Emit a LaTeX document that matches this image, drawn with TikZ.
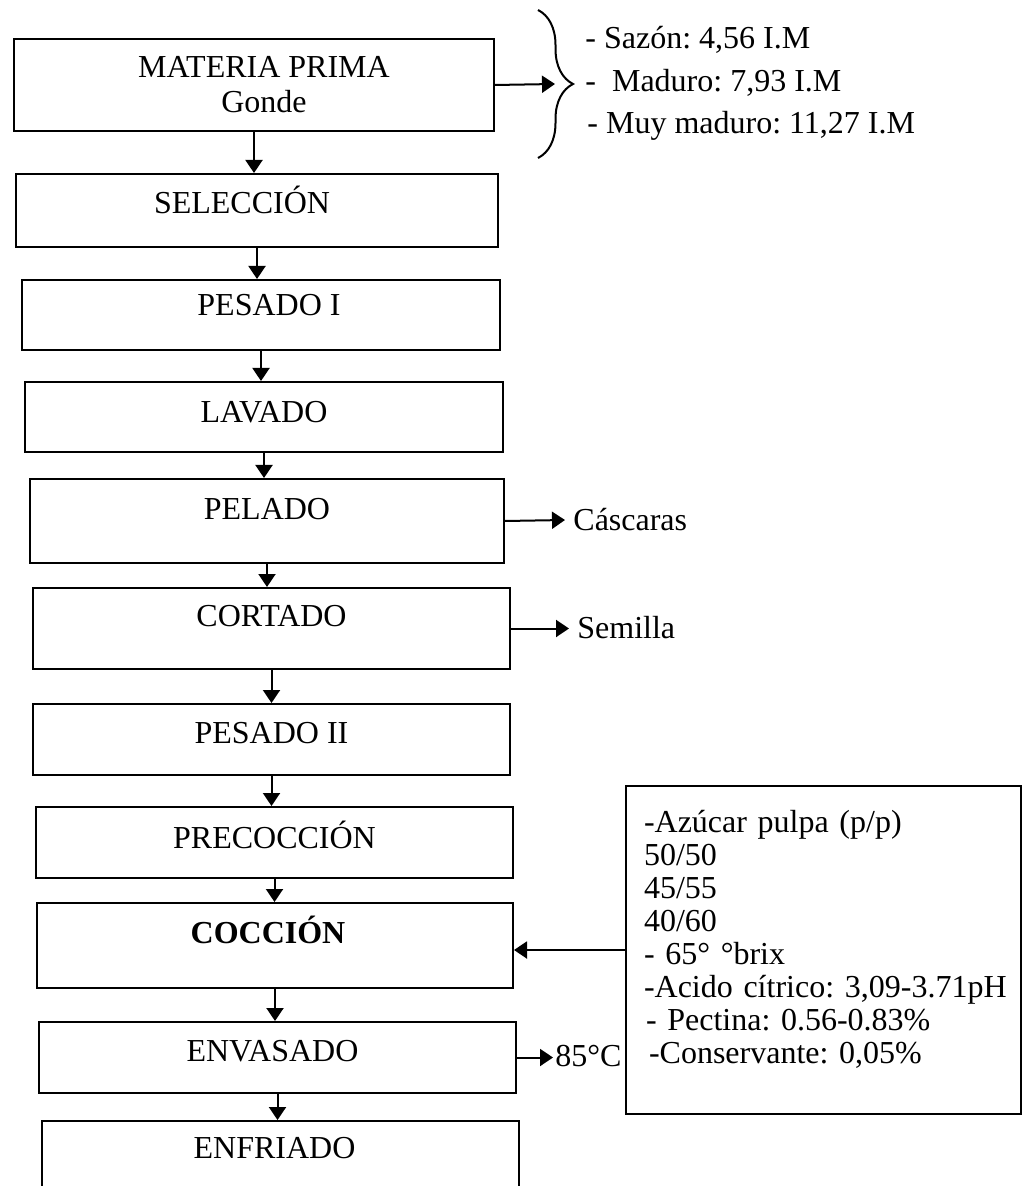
\documentclass[tikz,border=0pt]{standalone}
\usepackage{fontspec}
\setmainfont{Liberation Serif}
\usetikzlibrary{arrows.meta,decorations.pathreplacing}
\begin{document}
\frenchspacing
\begin{tikzpicture}[x=0.5pt,y=-0.5pt,
  every node/.style={font=\fontsize{16}{17.5}\selectfont\frenchspacing},
  proc/.style={draw, line width=1pt, inner sep=0pt, anchor=north west, minimum height=0pt},
  conn/.style={line width=1pt, -{Triangle[length=6.5pt,width=8.5pt]}},
  side/.style={anchor=west, inner ysep=0pt, inner xsep=4pt},
  brlabel/.style={anchor=west, inner sep=0pt}]
\useasboundingbox (0,0) rectangle (1030,1186);
\clip (0,0) rectangle (1030,1186);

% process boxes
\node[proc, minimum width=240pt, minimum height=46pt, align=center] (mp) at (13,38)
  {\hspace*{10pt}MATERIA PRIMA\\\hspace*{10pt}Gonde};
\node[proc, minimum width=241pt, text height=20pt, text depth=16.5pt] (sel) at (15,173) {SELECCIÓN\hspace*{15pt}};
\node[proc, minimum width=239pt, text height=18pt, text depth=17pt] (pes1) at (21,279) {\hspace*{8pt}PESADO I};
\node[proc, minimum width=239pt, text height=20.5pt, text depth=14.5pt] (lav) at (24,381) {LAVADO};
\node[proc, minimum width=237pt, text height=20pt, text depth=22pt] (pel) at (29,478) {PELADO};
\node[proc, minimum width=238.5pt, text height=19pt, text depth=21.5pt] (cor) at (32,587) {CORTADO};
\node[proc, minimum width=238.5pt, text height=19.5pt, text depth=16pt] (pes2) at (32,703) {PESADO II};
\node[proc, minimum width=238.5pt, text height=20.5pt, text depth=15pt] (pre) at (35,806) {PRECOCCIÓN};
\node[proc, minimum width=238pt, text height=20pt, text depth=22.5pt] (coc) at (36,902) {\textbf{COCCIÓN}\hspace*{7pt}};
\node[proc, minimum width=238.5pt, text height=19.5pt, text depth=16pt] (env) at (38,1021) {ENVASADO\hspace*{5pt}};
\node[proc, minimum width=238.5pt, text height=18.5pt, text depth=21.5pt] (enf) at (41,1120) {ENFRIADO\hspace*{6pt}};

% main flow
\draw[conn] (mp.south) -- (mp.south |- sel.north);
\draw[conn] (sel.south) -- (sel.south |- pes1.north);
\draw[conn] (pes1.south) -- (pes1.south |- lav.north);
\draw[conn] (lav.south) -- (lav.south |- pel.north);
\draw[conn] (pel.south) -- (pel.south |- cor.north);
\draw[conn] (cor.south) -- (cor.south |- pes2.north);
\draw[conn] (pes2.south) -- (pes2.south |- pre.north);
\draw[conn] (pre.south) -- (pre.south |- coc.north);
\draw[conn] (coc.south) -- (coc.south |- env.north);
\draw[conn] (env.south) -- (env.south |- enf.north);

% raw material grades
\coordinate (bt) at (555,84);
\draw[conn] (mp.east) -- (bt);
\draw[line width=1pt, decorate, decoration={brace, amplitude=17.5pt}] (538,10) -- (538,158);
\node[brlabel] (g1) at (585,40) {- Sazón: 4,56 I.M};
\node[brlabel] (g2) at (585,83) {-\ \ Maduro: 7,93 I.M};
\node[brlabel] (g3) at (587,126) {- Muy maduro: 11,27 I.M};

% by-products
\node[side] (cas) at (565,520) {Cáscaras};
\draw[conn] (pel.east) -- (cas.west);
\node[side] (sem) at (569,627.5) {Semilla};
\draw[conn] (cor.east) -- (cor.east -| sem.west);
\node[side, inner xsep=1pt] (t85) at (553,1056.5) {85°C};
\draw[conn] (env.east) -- (env.east -| t85.west);

% ingredients box
\node[draw, line width=1pt, anchor=north west, text width=179.5pt, inner xsep=9pt, inner ysep=0pt,
      minimum height=164pt, align=left, font=\fontsize{16}{16.5}\selectfont\frenchspacing] (rb) at (625,785)
  {-Azúcar pulpa (p/p)\\
   50/50\\
   45/55\\
   40/60\\
   - 65° °brix\\
   \mbox{-Acido cítrico: 3,09-3.71pH}\\
   \hspace*{1pt}- Pectina: 0.56-0.83\%\\
   \hspace*{2.5pt}-Conservante: 0,05\%\\[-3pt]\mbox{}};
\draw[conn] (rb.west) -- (rb.west -| coc.east);
\end{tikzpicture}
\end{document}
